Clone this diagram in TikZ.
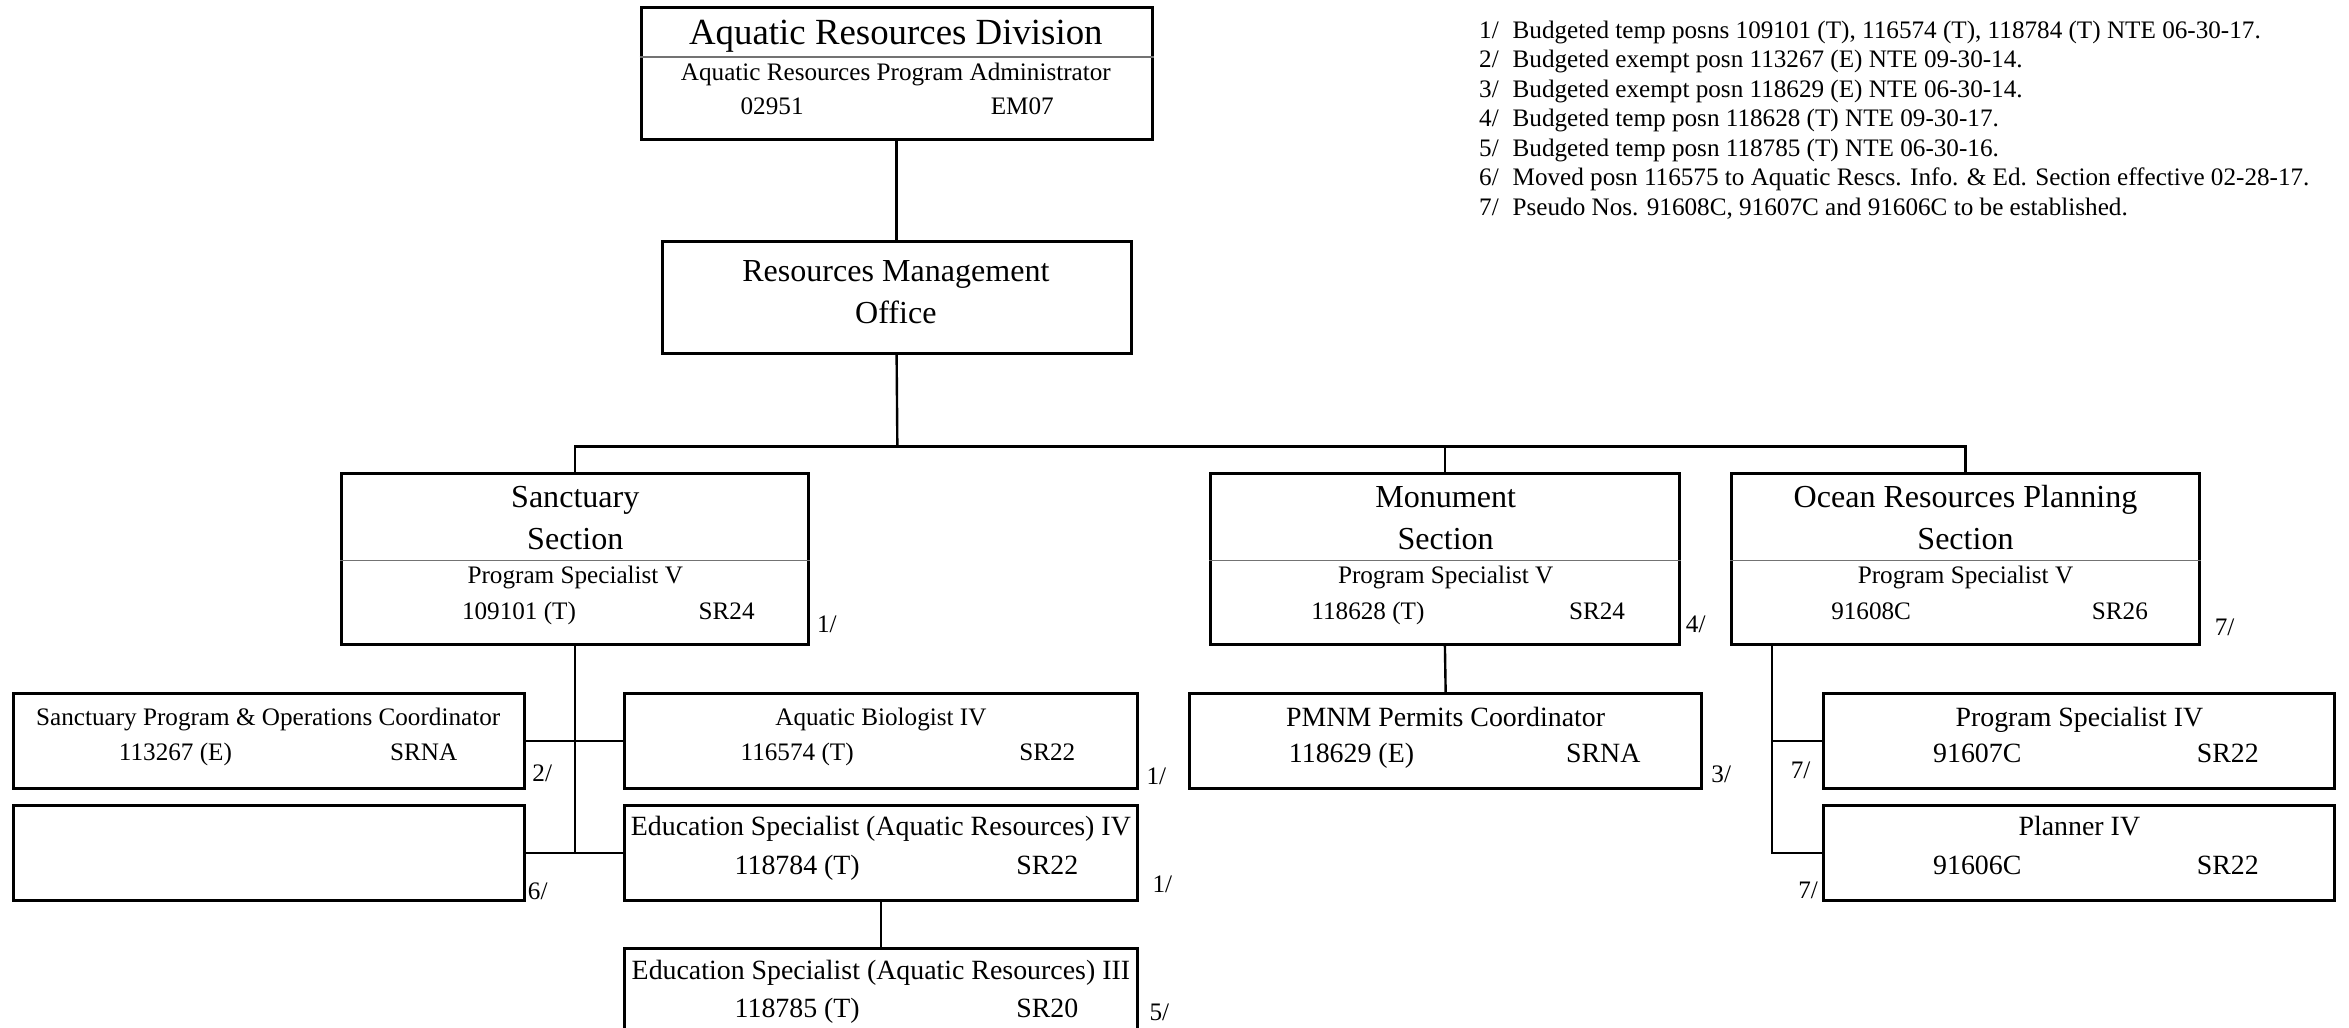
\documentclass[tikz,border=0pt]{standalone}
\usepackage{fontspec}
\setmainfont{Liberation Serif}
\usetikzlibrary{fit}
\usetikzlibrary{calc}
\usetikzlibrary{positioning}

\begin{document}
\begin{tikzpicture}[x=0.5pt, y=-0.5pt,
    posbox/.style={draw, line width=1pt, inner sep=0pt},
    divider/.style={draw=black!55, line width=0.5pt},
    link/.style={line width=0.8pt},
    txt/.style={inner sep=0pt, anchor=base, font=\fontsize{8.4}{9.85}\selectfont},
    numtxt/.style={txt, anchor=base west},
    bigtxt/.style={inner sep=0pt, anchor=base, font=\fontsize{9.3}{11}\selectfont},
    bignum/.style={bigtxt, anchor=base west},
    sectxt/.style={inner sep=0pt, anchor=base, font=\fontsize{10.7}{12}\selectfont},
    divtxt/.style={inner sep=0pt, anchor=base, font=\fontsize{12.3}{14}\selectfont}
  ]
  \useasboundingbox (0,0) rectangle (1568,686);

  % boxes
  \node[posbox, fit={(428,5) (769,93)}] (ard) {};
  \node[posbox, fit={(442,161) (755,236)}] (rmo) {};
  \node[posbox, fit={(228,316) (540,430)}] (sanct) {};
  \node[posbox, fit={(808,316) (1121,430)}] (mon) {};
  \node[posbox, fit={(1156,316) (1468,430)}] (ocean) {};
  \node[posbox, fit={(9,463) (350,526)}] (spoc) {};
  \node[posbox, fit={(417,463) (759,526)}] (bio) {};
  \node[posbox, fit={(9,538) (350,601)}] (vac) {};
  \node[posbox, fit={(417,538) (759,601)}] (edu4) {};
  \node[posbox, fit={(417,633) (759,696)}] (edu3) {};
  \node[posbox, fit={(794,463) (1136,526)}] (pmnm) {};
  \node[posbox, fit={(1217,463) (1558,526)}] (ps4) {};
  \node[posbox, fit={(1217,538) (1558,601)}] (plan4) {};

  \draw[divider] (ard.west |- 0,38) -- (ard.east |- 0,38);
  \foreach \b in {sanct, mon, ocean}{
    \draw[divider] (\b.west |- 0,374) -- (\b.east |- 0,374);
  }

  % division
  \node[divtxt] (ardT) at (598,30) {Aquatic Resources Division};
  \node[txt] (ardP) at (598,53.5) {Aquatic Resources Program Administrator};
  \node[numtxt] (ardN) at (494,76.5) {02951};
  \node[numtxt] (ardG) at (661,76.5) {EM07};

  \node[sectxt] (rmoA) at (598,188) {Resources Management};
  \node[sectxt] (rmoB) at (598,216) {Office};

  % sections
  \node[sectxt] (sanctA) at (384,339) {Sanctuary};
  \node[sectxt] (sanctB) at (384,367) {Section};
  \node[txt] (sanctP) at (384,389.5) {Program Specialist V};
  \node[numtxt] (sanctN) at (308,413.5) {109101 (T)};
  \node[numtxt] (sanctG) at (466,413.5) {SR24};
  \node[numtxt] (sanctF) at (545,422.5) {1/};

  \node[sectxt] (monA) at (965,339) {Monument};
  \node[sectxt] (monB) at (965,367) {Section};
  \node[txt] (monP) at (965,389.5) {Program Specialist V};
  \node[numtxt] (monN) at (875,413.5) {118628 (T)};
  \node[numtxt] (monG) at (1047,413.5) {SR24};
  \node[numtxt] (monF) at (1125,422.5) {4/};

  \node[sectxt] (oceanA) at (1312,339) {Ocean Resources Planning};
  \node[sectxt] (oceanB) at (1312,367) {Section};
  \node[txt] (oceanP) at (1312,389.5) {Program Specialist V};
  \node[numtxt] (oceanN) at (1222,413.5) {91608C};
  \node[numtxt] (oceanG) at (1396,413.5) {SR26};
  \node[numtxt] (oceanF) at (1478,424.5) {7/};

  % sanctuary staff
  \node[txt] (spocP) at (179,484.5) {Sanctuary Program \& Operations Coordinator};
  \node[numtxt] (spocN) at (79,507.5) {113267 (E)};
  \node[numtxt] (spocG) at (260,507.5) {SRNA};
  \node[numtxt] (spocF) at (355,521.5) {2/};

  \node[txt] (bioP) at (588,484.5) {Aquatic Biologist IV};
  \node[numtxt] (bioN) at (494,507.5) {116574 (T)};
  \node[numtxt] (bioG) at (680,507.5) {SR22};
  \node[numtxt] (bioF) at (765,523.5) {1/};

  \node[numtxt] (vacF) at (352,600.5) {6/};

  \node[bigtxt] (edu4P) at (588,558) {Education Specialist (Aquatic Resources) IV};
  \node[bignum] (edu4N) at (490,584) {118784 (T)};
  \node[bignum] (edu4G) at (678,584) {SR22};
  \node[numtxt] (edu4F) at (769,595.5) {1/};

  \node[bigtxt] (edu3P) at (588,654) {Education Specialist (Aquatic Resources) III};
  \node[bignum] (edu3N) at (490,679) {118785 (T)};
  \node[bignum] (edu3G) at (678,679) {SR20};
  \node[numtxt] (edu3F) at (767,681.5) {5/};

  % monument staff
  \node[bigtxt] (pmnmP) at (965,485) {PMNM Permits Coordinator};
  \node[bignum] (pmnmN) at (860,509) {118629 (E)};
  \node[bignum] (pmnmG) at (1045,509) {SRNA};
  \node[numtxt] (pmnmF) at (1142,522.5) {3/};

  % ocean staff
  \node[bigtxt] (ps4P) at (1388,485) {Program Specialist IV};
  \node[bignum] (ps4N) at (1290,509) {91607C};
  \node[bignum] (ps4G) at (1466,509) {SR22};
  \node[numtxt] (ps4F) at (1195,519.5) {7/};

  \node[bigtxt] (plan4P) at (1388,558) {Planner IV};
  \node[bignum] (plan4N) at (1290,584) {91606C};
  \node[bignum] (plan4G) at (1466,584) {SR22};
  \node[numtxt] (plan4F) at (1200,599.5) {7/};

  % connectors
  \coordinate (bus) at (599,298);
  \coordinate (ospine) at ([xshift=14pt]ocean.south west);
  \draw[link] (ard.south) -- (rmo.north);
  \draw[link] (rmo.south) -- (bus);
  \draw[link] (sanct.north) |- (bus) -| (ocean.north);
  \draw[link] (mon.north) -- (mon.north |- bus);
  \draw[link] (sanct.south) -- (sanct.south |- vac.east);
  \draw[link] (spoc.east) -- (bio.west);
  \draw[link] (vac.east) -- (edu4.west);
  \draw[link] (edu4.south) -- (edu3.north);
  \draw[link] (mon.south) -- (pmnm.north);
  \draw[link] (ospine) |- (plan4.west);
  \draw[link] (ps4.west) -- (ps4.west -| ospine);

  % notes
  \foreach \i/\t in {1/{Budgeted temp posns 109101 (T), 116574 (T), 118784 (T) NTE 06-30-17.},
                     2/{Budgeted exempt posn 113267 (E) NTE 09-30-14.},
                     3/{Budgeted exempt posn 118629 (E) NTE 06-30-14.},
                     4/{Budgeted temp posn 118628 (T) NTE 09-30-17.},
                     5/{Budgeted temp posn 118785 (T) NTE 06-30-16.},
                     6/{Moved posn 116575 to Aquatic Rescs. Info. \& Ed. Section effective 02-28-17.},
                     7/{Pseudo Nos. 91608C, 91607C and 91606C to be established.}}{
    \node[numtxt] (note\i) at (987,{25.5+(\i-1)*19.7}) {\i/\hspace{0.55em}\t};
  }
\end{tikzpicture}
\end{document}
